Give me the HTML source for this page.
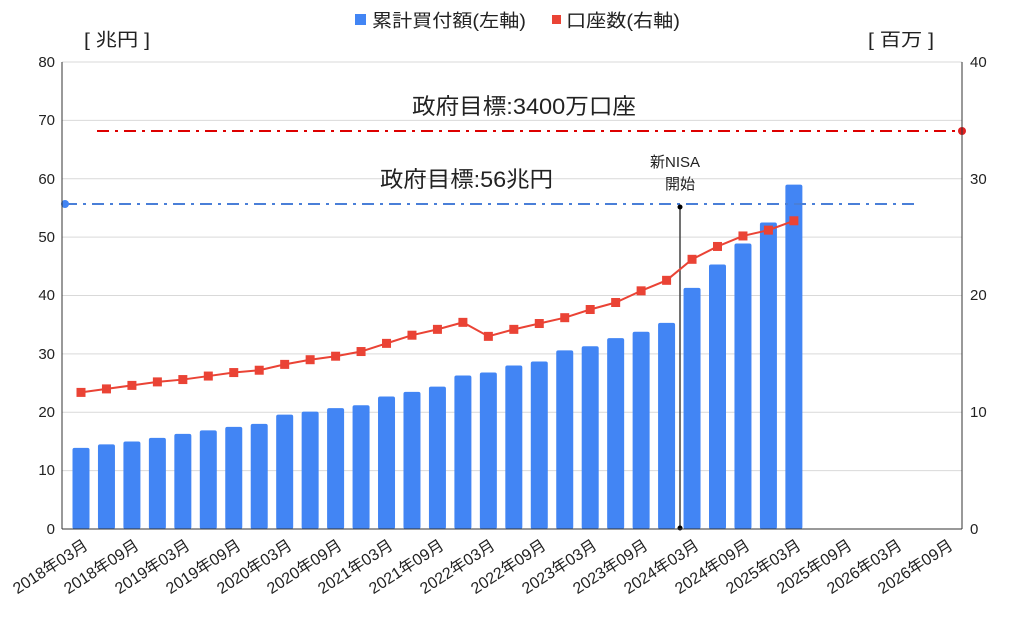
<!DOCTYPE html>
<html><head><meta charset="utf-8"><style>
body{margin:0;background:#fff;}
svg text{font-family:"Liberation Sans","Noto Sans CJK JP",sans-serif;fill:#222;}
</style></head><body>
<svg id="s" width="1019" height="612" viewBox="0 0 1019 612" xmlns="http://www.w3.org/2000/svg">
<g id="grid" stroke="#d9d9d9" stroke-width="1"></g>
<g id="bars" fill="#4285f4"></g>
<line x1="65" y1="204" x2="918" y2="204" stroke="#4a7fd8" stroke-width="2" stroke-dasharray="12,6,3,6"/>
<circle cx="65" cy="204" r="4" fill="#4285f4"/>
<line x1="97" y1="131" x2="962" y2="131" stroke="#d00" stroke-width="2" stroke-dasharray="12,6,3,6"/>
<circle cx="962" cy="131" r="4" fill="#e02020"/>
<line x1="680" y1="207" x2="680" y2="528" stroke="#444" stroke-width="1.5"/>
<circle cx="680" cy="207" r="2.5" fill="#000"/><circle cx="680" cy="528" r="2.5" fill="#000"/>
<g id="line"></g>
<line x1="62" y1="62" x2="62" y2="529" stroke="#333"/>
<line x1="962" y1="62" x2="962" y2="529" stroke="#333"/>
<line x1="62" y1="529" x2="962" y2="529" stroke="#333"/>
<rect x="355" y="14" width="11" height="11" fill="#4285f4"/>
<text x="372" y="27" font-size="18" textLength="154" lengthAdjust="spacingAndGlyphs">累計買付額(左軸)</text>
<rect x="552" y="15" width="9" height="9" fill="#ea4335"/>
<text x="566" y="27" font-size="18" textLength="114" lengthAdjust="spacingAndGlyphs">口座数(右軸)</text>
<text x="84" y="46" font-size="18" textLength="66" lengthAdjust="spacingAndGlyphs">[ 兆円 ]</text>
<text x="868" y="46" font-size="18" textLength="66" lengthAdjust="spacingAndGlyphs">[ 百万 ]</text>
<g font-size="15" text-anchor="end">
<text x="55" y="67">80</text><text x="55" y="125">70</text><text x="55" y="184">60</text><text x="55" y="242">50</text><text x="55" y="300">40</text><text x="55" y="359">30</text><text x="55" y="417">20</text><text x="55" y="475">10</text><text x="55" y="534">0</text>
</g>
<g font-size="15">
<text x="970" y="67">40</text><text x="970" y="184">30</text><text x="970" y="300">20</text><text x="970" y="417">10</text><text x="970" y="534">0</text>
</g>
<text x="412" y="114" font-size="22" textLength="224" lengthAdjust="spacingAndGlyphs">政府目標:3400万口座</text>
<text x="380" y="187" font-size="22" textLength="173" lengthAdjust="spacingAndGlyphs">政府目標:56兆円</text>
<text x="675" y="167" font-size="15" text-anchor="middle">新NISA</text>
<text x="680" y="189" font-size="15" text-anchor="middle">開始</text>
<g font-size="16" text-anchor="end">
<text transform="translate(89,548) rotate(-33)">2018年03月</text>
<text transform="translate(140,548) rotate(-33)">2018年09月</text>
<text transform="translate(191,548) rotate(-33)">2019年03月</text>
<text transform="translate(242,548) rotate(-33)">2019年09月</text>
<text transform="translate(293,548) rotate(-33)">2020年03月</text>
<text transform="translate(343,548) rotate(-33)">2020年09月</text>
<text transform="translate(394,548) rotate(-33)">2021年03月</text>
<text transform="translate(445,548) rotate(-33)">2021年09月</text>
<text transform="translate(496,548) rotate(-33)">2022年03月</text>
<text transform="translate(547,548) rotate(-33)">2022年09月</text>
<text transform="translate(598,548) rotate(-33)">2023年03月</text>
<text transform="translate(649,548) rotate(-33)">2023年09月</text>
<text transform="translate(700,548) rotate(-33)">2024年03月</text>
<text transform="translate(751,548) rotate(-33)">2024年09月</text>
<text transform="translate(802,548) rotate(-33)">2025年03月</text>
<text transform="translate(853,548) rotate(-33)">2025年09月</text>
<text transform="translate(903,548) rotate(-33)">2026年03月</text>
<text transform="translate(954,548) rotate(-33)">2026年09月</text>
</g>
</svg>
<script>
var NS="http://www.w3.org/2000/svg";
function el(p,t,a){var e=document.createElementNS(NS,t);for(var k in a)e.setAttribute(k,a[k]);document.getElementById(p).appendChild(e);return e;}
for(var i=1;i<=8;i++){var y=529-i*58.375;el("grid","line",{x1:62,x2:962,y1:y,y2:y});}
var b=[13.9,14.5,15.0,15.6,16.3,16.9,17.5,18.0,19.6,20.1,20.7,21.2,22.7,23.5,24.4,26.3,26.8,28.0,28.7,30.6,31.3,32.7,33.8,35.3,41.3,45.3,48.9,52.5,59.0];
var l=[11.7,12.0,12.3,12.6,12.8,13.1,13.4,13.6,14.1,14.5,14.8,15.2,15.9,16.6,17.1,17.7,16.5,17.1,17.6,18.1,18.8,19.4,20.4,21.3,23.1,24.2,25.1,25.6,26.4];
var pts=[];
for(var i=0;i<b.length;i++){var x=81+i*25.46;var h=b[i]*5.8375;
el("bars","rect",{x:x-8.5,y:529-h,width:17,height:h,rx:2});
pts.push([x,529-l[i]*11.675]);}
el("line","polyline",{points:pts.map(function(p){return p.join(",")}).join(" "),fill:"none",stroke:"#ea4335","stroke-width":2});
pts.forEach(function(p){el("line","rect",{x:p[0]-4.5,y:p[1]-4.5,width:9,height:9,fill:"#ea4335"});});
</script>
</body></html>
